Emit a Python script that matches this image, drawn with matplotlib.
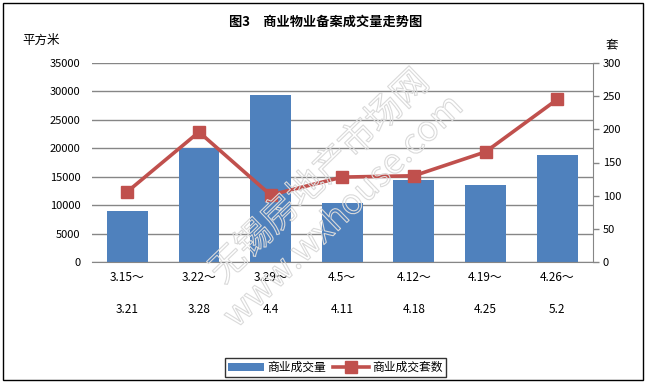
import matplotlib
matplotlib.use("Agg")
import matplotlib.pyplot as plt
import matplotlib.patheffects as pe
from matplotlib.patches import Rectangle
import numpy as np

plt.rcParams["font.family"] = ["Noto Sans CJK SC", "DejaVu Sans"]
plt.rcParams["axes.unicode_minus"] = False

WEEK_START = ["3.15～", "3.22～", "3.29～", "4.5～", "4.12～", "4.19～", "4.26～"]
WEEK_END = ["3.21", "3.28", "4.4", "4.11", "4.18", "4.25", "5.2"]
AREA = [8950, 20000, 29400, 10300, 14400, 13550, 18800]   # 平方米
UNITS = [106, 196, 101, 128, 130, 166, 245]              # 套
LEFT_TICKS = [0, 5000, 10000, 15000, 20000, 25000, 30000, 35000]
RIGHT_TICKS = [0, 50, 100, 150, 200, 250, 300]

BAR = "#4f81bd"
LINE = "#c0504d"
GRID = "#868686"

W, H = 651, 384
fig = plt.figure(figsize=(W / 100, H / 100), dpi=100)
fig.patch.set_facecolor("white")

ax = fig.add_axes([91.5 / W, 1 - 262 / H, (593 - 91.5) / W, (262 - 63) / H])
ax2 = ax.twinx()

x = np.arange(len(AREA))
bars = ax.bar(x, AREA, width=0.57, color=BAR, zorder=2, label="商业成交量")
line, = ax2.plot(x, UNITS, color=LINE, lw=2.6, marker="s", markersize=9,
                 markerfacecolor=LINE, markeredgecolor=LINE, zorder=3,
                 label="商业成交套数")

ax.set_xlim(-0.5, len(AREA) - 0.5)
ax.set_ylim(0, 35000)
ax2.set_ylim(0, 300)
ax.set_yticks(LEFT_TICKS)
ax2.set_yticks(RIGHT_TICKS)
ax.yaxis.grid(True, color=GRID, lw=1)
ax.set_axisbelow(True)
ax.set_xticks([])

for s in ("top", "left", "right"):
    ax.spines[s].set_visible(False)
    ax2.spines[s].set_visible(False)
ax.spines["bottom"].set_color(GRID)
ax2.spines["bottom"].set_visible(False)
ax2.spines["right"].set_visible(True)
ax2.spines["right"].set_color(GRID)

ax.tick_params(axis="y", length=0, pad=8, labelsize=8, colors="black")
ax2.tick_params(axis="y", length=4, width=1, color=GRID, direction="out",
                pad=3, labelsize=8, colors="black")
ax.set_zorder(ax2.get_zorder() - 1)
ax2.patch.set_visible(False)
ax2.set_zorder(1)

trans = ax.get_xaxis_transform()
for i in x:
    ax.text(i, -0.08, WEEK_START[i], transform=trans, ha="center", va="center",
            fontsize=8.5)
    ax.text(i, -0.24, WEEK_END[i], transform=trans, ha="center", va="center",
            fontsize=8.5)

fig.text(0.5, 1 - 22 / H, "图3　商业物业备案成交量走势图", ha="center",
         va="center", fontsize=9.5, fontweight="bold")
fig.text(22 / W, 1 - 40 / H, "平方米", ha="left", va="center", fontsize=9)
fig.text(612 / W, 1 - 45 / H, "套", ha="center", va="center", fontsize=9)

# faint outlined watermark (outline only, no fill)
wm = dict(rotation=44, ha="center", va="center", zorder=10, color="none",
          path_effects=[pe.Stroke(linewidth=0.8, foreground="#dadada")])
fig.text(320 / W, 1 - 177 / H, "无锡房地产市场网", fontsize=26, **wm)
fig.text(344 / W, 1 - 212 / H, "www.wxhouse.com", fontsize=25, **wm)

leg = fig.legend(handles=[bars, line], loc="center",
                 bbox_to_anchor=(335.5 / W, 1 - 367.5 / H), ncol=2,
                 frameon=True, fancybox=False, fontsize=8.5,
                 handlelength=3.0, handletextpad=0.3, columnspacing=0.6,
                 borderpad=0.25, borderaxespad=0)
leg.get_frame().set_edgecolor("black")
leg.get_frame().set_linewidth(1.0)

fig.add_artist(Rectangle((3 / W, 1 - 380 / H), 640 / W, 377 / H,
                         transform=fig.transFigure, fill=False,
                         edgecolor="black", lw=1.0))

fig.savefig("out.png", dpi=100, facecolor="white")
